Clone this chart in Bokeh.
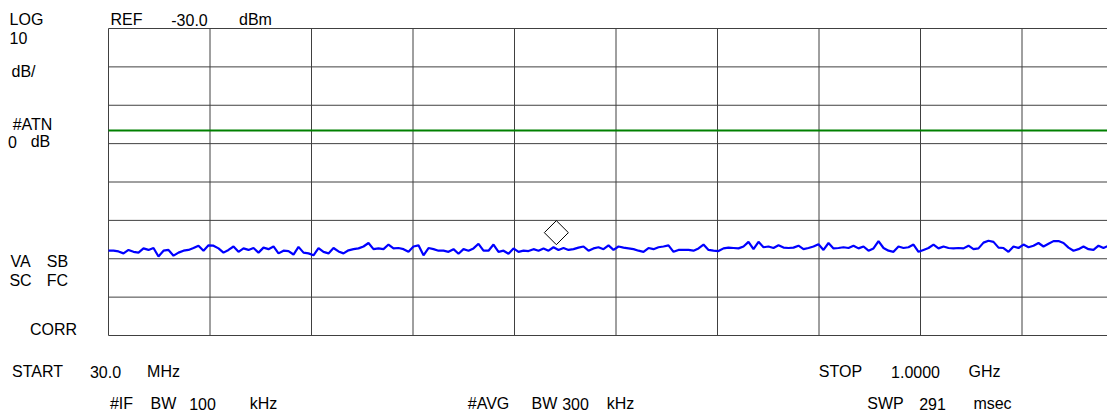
import numpy as np
from bokeh.plotting import figure
from bokeh.models import Label, Range1d
from bokeh.embed import file_html
from bokeh.resources import INLINE

# ---- instrument settings ----
START_MHZ = 30.0
STOP_MHZ = 1000.0
REF_DBM = -30.0
DB_PER_DIV = 10.0
N_DIV_X = 10
N_DIV_Y = 8
DISPLAY_LINE_DBM = -56.6
MARKER_MHZ = 458.0
MARKER_DBM = -83.2
TRACE_POINTS_FULL_SPAN = 204

# ---- trace (dBm), equally spaced sweep points ----
trace_dbm = [
    -87.9, -87.9, -88.1, -88.6, -87.7, -88.2, -88.4, -87.3, -87.7, -87.2,
    -89.4, -87.9, -87.7, -89.2, -88.4, -87.9, -87.7, -87.2, -86.6, -87.9,
    -86.5, -86.6, -87.3, -88.4, -87.7, -86.8, -88.2, -87.3, -87.7, -87.2,
    -88.4, -87.1, -87.5, -86.8, -88.6, -87.9, -88.0, -88.9, -86.9, -88.4,
    -88.6, -89.1, -87.2, -88.2, -88.6, -87.2, -88.1, -88.6, -87.8, -87.5,
    -87.3, -86.8, -85.9, -87.5, -87.3, -87.5, -86.3, -87.3, -87.2, -87.5,
    -88.2, -86.8, -86.5, -89.1, -87.2, -87.5, -87.9, -87.9, -88.2, -87.5,
    -88.7, -87.5, -87.9, -87.3, -86.1, -87.9, -87.9, -86.3, -88.2, -87.9,
    -88.7, -87.3, -88.2, -87.9, -88.0, -87.5, -87.9, -87.3, -87.9, -87.0,
    -87.7, -87.2, -87.7, -87.5, -87.1, -86.8, -87.9, -87.3, -87.0, -87.5,
    -86.5,
    -87.7, -86.8, -87.1, -87.3, -87.5, -87.9, -88.2, -87.2, -87.5, -87.0,
    -86.8, -86.5, -88.2, -87.7, -87.7, -87.7, -87.9, -87.3, -86.3, -87.7,
    -87.9, -88.0, -87.3, -87.1, -87.2, -87.3, -86.8, -85.6, -87.5, -85.6,
    -87.0, -86.8, -87.2, -86.5, -87.1, -87.2, -87.1, -86.6, -87.5, -87.2,
    -86.8, -86.2, -87.7, -85.9, -87.3, -87.2, -87.0, -87.2, -86.6, -87.3,
    -86.8, -87.9, -87.3, -85.4, -87.2, -87.9, -88.2, -86.8, -87.2, -87.0,
    -86.3, -88.2, -87.7, -87.2, -86.3, -87.3, -86.8, -87.2, -87.3, -87.2,
    -87.3, -86.6, -87.5, -87.3, -85.8, -85.3, -85.6, -87.1, -87.2, -88.2,
    -86.8, -87.2, -86.3, -87.0, -86.6, -85.9, -86.8, -86.1, -85.4, -85.4,
    -85.9, -87.1, -87.9, -87.5, -86.8, -87.5, -87.7, -86.6, -87.2, -86.6,
]

# ---- screen annotation words: (text, centre x px, centre y px) ----
annotation_words = [
    ("LOG", 26, 19), ("10", 18, 37), ("dB/", 23, 71),
    ("#ATN", 32, 124), ("0", 12, 141), ("dB", 40, 141),
    ("REF", 126, 19), ("-30.0", 189, 19), ("dBm", 255, 19),
    ("VA", 20, 261), ("SB", 57, 261), ("SC", 20, 280), ("FC", 57, 280),
    ("CORR", 53, 329),
    ("START", 37, 371), ("30.0", 105, 371), ("MHz", 163, 371),
    ("STOP", 840, 371), ("1.0000", 915, 371), ("GHz", 984, 371),
    ("#IF", 121, 403), ("BW", 163, 403), ("100", 202, 403), ("kHz", 263, 403),
    ("#AVG", 488, 403), ("BW", 544, 403), ("300", 575, 403), ("kHz", 620, 403),
    ("SWP", 885, 403), ("291", 932, 403), ("msec", 992, 403),
]

# ---- screen layout (pixels) ----
W, H = 1107, 413
GRAT_LEFT, GRAT_TOP = 108, 28
PX_PER_DIV_X, PX_PER_DIV_Y = 101.5, 38.375

step = (STOP_MHZ - START_MHZ) / (TRACE_POINTS_FULL_SPAN - 1)
trace_mhz = START_MHZ + step * np.arange(len(trace_dbm))
mhz_per_div = (STOP_MHZ - START_MHZ) / N_DIV_X
bottom_dbm = REF_DBM - N_DIV_Y * DB_PER_DIV
mhz_per_px = mhz_per_div / PX_PER_DIV_X
db_per_px = DB_PER_DIV / PX_PER_DIV_Y

x_range = Range1d(START_MHZ - GRAT_LEFT * mhz_per_px,
                  START_MHZ + (W - GRAT_LEFT) * mhz_per_px)
y_range = Range1d(REF_DBM - (H - GRAT_TOP) * db_per_px,
                  REF_DBM + GRAT_TOP * db_per_px)

p = figure(width=W, height=H, x_range=x_range, y_range=y_range,
           x_axis_location=None, y_axis_location=None,
           output_backend="svg", toolbar_location=None,
           min_border=0)
p.outline_line_color = None
p.background_fill_color = "white"
p.border_fill_color = "white"
p.xgrid.visible = False
p.ygrid.visible = False

grid_color = "#404040"
vx = [START_MHZ + i * mhz_per_div for i in range(N_DIV_X + 1)]
hy = [bottom_dbm + i * DB_PER_DIV for i in range(N_DIV_Y + 1)]
p.segment(x0=vx, y0=[bottom_dbm] * len(vx), x1=vx, y1=[REF_DBM] * len(vx),
          line_color=grid_color, line_width=1)
p.segment(x0=[START_MHZ] * len(hy), y0=hy, x1=[STOP_MHZ] * len(hy), y1=hy,
          line_color=grid_color, line_width=1)

p.segment(x0=[START_MHZ], y0=[DISPLAY_LINE_DBM], x1=[STOP_MHZ], y1=[DISPLAY_LINE_DBM],
          line_color="#008000", line_width=2)

p.line(trace_mhz, trace_dbm, line_color="#0000ff", line_width=2.2)
p.scatter([MARKER_MHZ], [MARKER_DBM], marker="square", angle=np.pi / 4, size=17,
          fill_color=None, line_color="black", line_width=1)

FONT = "Liberation Sans"
FS = "16px"

for txt, x, y in annotation_words:
    p.add_layout(Label(x=x, y=y, x_units="canvas", y_units="canvas", text=txt,
                       text_font=FONT, text_font_size=FS, text_color="black",
                       text_baseline="middle", text_align="center"))

open("out.html", "w").write(file_html(p, INLINE))
